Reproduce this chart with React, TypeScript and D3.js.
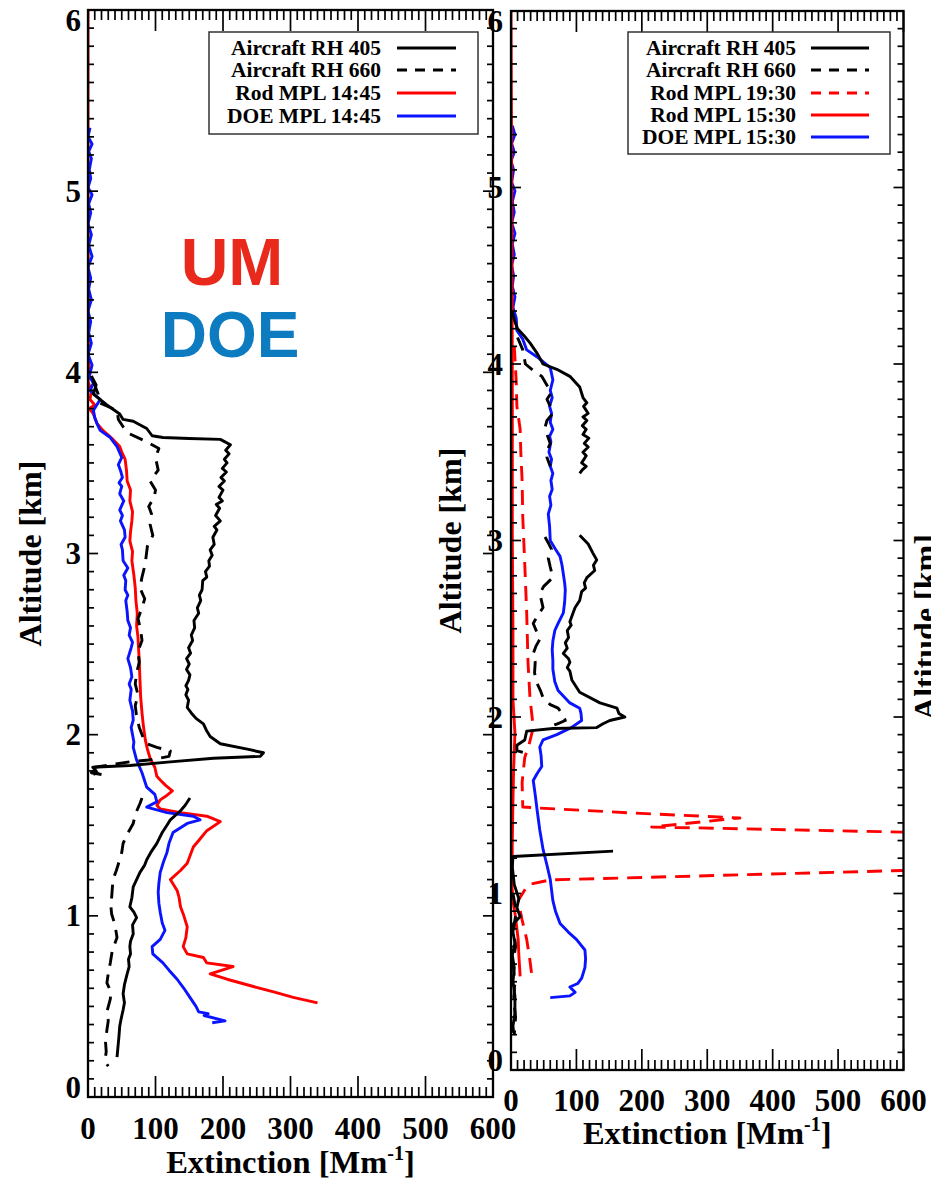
import React from 'react';
import * as d3 from 'd3';

// Each profile point is [altitude km, extinction Mm^-1]; null marks a gap in the profile.
type Pt = [number, number | null];

// ---------- Left panel: 14:45 profiles ----------
const aircraft405Left: Pt[] = [
  [3.98, 5], [3.93, 12], [3.88, 8], [3.82, 28], [3.77, 47], [3.74, 52], [3.73, 67], [3.69, 87],
  [3.65, 95], [3.64, 111], [3.635, 150], [3.63, 196], [3.6, 211], [3.57, 204], [3.55, 209],
  [3.52, 202], [3.5, 206], [3.47, 199], [3.45, 205], [3.42, 197], [3.4, 202], [3.37, 194],
  [3.35, 200], [3.31, 194], [3.29, 199], [3.27, 190], [3.25, 195], [3.21, 189], [3.18, 196],
  [3.15, 187], [3.13, 191], [3.09, 185], [3.05, 187], [3.02, 181], [2.99, 184], [2.96, 179],
  [2.93, 180], [2.9, 174], [2.87, 176], [2.85, 170], [2.8, 169], [2.77, 165], [2.74, 167],
  [2.7, 162], [2.67, 164], [2.63, 157], [2.59, 158], [2.55, 153], [2.52, 155], [2.48, 149],
  [2.45, 152], [2.42, 146], [2.39, 150], [2.36, 146], [2.33, 151], [2.3, 149], [2.27, 145],
  [2.25, 148], [2.22, 145], [2.19, 149], [2.15, 147], [2.12, 153], [2.09, 160], [2.06, 171],
  [2.02, 176], [1.99, 181], [1.95, 196], [1.92, 236], [1.9, 260], [1.88, 255], [1.87, 186],
  [1.85, 122], [1.83, 62], [1.82, 7], [1.8, 12], [1.79, 5], [1.78, 20], [1.7, null],
  [1.65, 151], [1.61, 144], [1.58, 137], [1.53, 122], [1.5, 117], [1.46, 110], [1.43, 106],
  [1.4, 102], [1.35, 93], [1.31, 87], [1.28, 84], [1.24, 77], [1.2, 72], [1.16, 67], [1.1, 65],
  [1.05, 62], [1.02, 68], [0.99, 72], [0.95, 66], [0.9, 67], [0.86, 63], [0.83, 62], [0.79, 63],
  [0.76, 60], [0.72, 61], [0.68, 58], [0.62, 54], [0.57, 52], [0.52, 54], [0.48, 52], [0.43, 49],
  [0.39, 47], [0.34, 46], [0.3, 45], [0.26, 44], [0.22, 43],
];

const aircraft660Left: Pt[] = [
  [3.95, 8], [3.88, 15], [3.83, 18], [3.79, 43], [3.74, 45], [3.7, 52], [3.66, 62], [3.62, 85],
  [3.58, 105], [3.53, 100], [3.46, 104], [3.4, 92], [3.35, 100], [3.31, 98], [3.26, 90],
  [3.22, 94], [3.16, 92], [3.1, 96], [3.04, 88], [2.98, 86], [2.93, 84], [2.87, 80], [2.81, 77],
  [2.75, 84], [2.7, 80], [2.64, 74], [2.58, 78], [2.52, 80], [2.46, 74], [2.4, 76], [2.34, 72],
  [2.28, 70], [2.22, 74], [2.16, 70], [2.1, 72], [2.04, 76], [1.98, 82], [1.95, 87], [1.93, 102],
  [1.91, 122], [1.88, 120], [1.86, 90], [1.85, 62], [1.82, 10], [1.8, 20], [1.78, 8], [1.7, null],
  [1.65, 80], [1.62, 77], [1.56, 70], [1.51, 67], [1.45, 58], [1.4, 52], [1.35, 50], [1.31, 47],
  [1.25, 42], [1.2, 37], [1.15, 36], [1.1, 35], [1.05, 34], [1.01, 35], [0.95, 40], [0.88, 43],
  [0.81, 36], [0.74, 33], [0.68, 30], [0.63, 28], [0.58, 34], [0.54, 33], [0.47, 28], [0.42, 30],
  [0.37, 28], [0.3, 26], [0.25, 27], [0.2, 25], [0.17, 30],
];

const rodMplLeft: Pt[] = [
  [6.0, 0], [5.0, 0], [4.2, 0.5], [4.05, 1], [4.0, 3], [3.95, 0], [3.9, 5], [3.85, 3], [3.82, 10],
  [3.8, 2], [3.77, 8], [3.72, 13], [3.68, 22], [3.63, 37], [3.59, 47], [3.56, 50], [3.52, 55],
  [3.46, 57], [3.4, 58], [3.35, 63], [3.29, 62], [3.23, 66], [3.18, 65], [3.12, 63], [3.07, 62],
  [3.01, 66], [2.96, 65], [2.88, 68], [2.81, 70], [2.74, 71], [2.67, 73], [2.6, 72], [2.54, 74],
  [2.47, 75], [2.4, 76], [2.3, 77], [2.21, 78], [2.12, 80], [2.05, 82], [1.97, 85], [1.92, 88],
  [1.87, 92], [1.82, 99], [1.77, 102], [1.75, 107], [1.72, 115], [1.69, 125], [1.66, 115],
  [1.64, 107], [1.61, 102], [1.59, 107], [1.57, 137], [1.55, 176], [1.52, 196], [1.47, 176],
  [1.42, 165], [1.38, 156], [1.33, 151], [1.29, 147], [1.25, 137], [1.2, 122], [1.14, 132],
  [1.1, 135], [1.05, 137], [1.0, 142], [0.94, 147], [0.88, 145], [0.83, 141], [0.79, 147],
  [0.77, 171], [0.74, 176], [0.72, 215], [0.68, 181], [0.65, 206], [0.61, 245], [0.58, 275],
  [0.55, 304], [0.52, 340],
];

const doeMplLeft: Pt[] = [
  [5.35, 3], [5.3, 0], [5.26, 6], [5.22, 1], [5.18, 5], [5.12, 2], [5.07, 4], [5.02, 0], [4.98, 6],
  [4.93, 1], [4.88, 4], [4.82, 0], [4.76, 5], [4.7, 1], [4.64, 6], [4.58, 0], [4.52, 4], [4.46, 1],
  [4.4, 5], [4.34, 0], [4.28, 4], [4.22, 1], [4.16, 5], [4.1, 0], [4.04, 6], [3.98, 2], [3.94, 8],
  [3.9, 3], [3.85, 18], [3.79, 8], [3.75, 10], [3.72, 13], [3.68, 18], [3.64, 33], [3.59, 43],
  [3.53, 50], [3.49, 45], [3.46, 48], [3.42, 51], [3.39, 46], [3.37, 50], [3.33, 47], [3.29, 53],
  [3.24, 47], [3.21, 51], [3.18, 48], [3.13, 54], [3.09, 55], [3.05, 49], [3.02, 51], [2.96, 52],
  [2.92, 59], [2.88, 53], [2.85, 56], [2.8, 55], [2.77, 59], [2.74, 56], [2.68, 58], [2.63, 59],
  [2.59, 63], [2.55, 61], [2.51, 66], [2.48, 64], [2.42, 59], [2.37, 63], [2.32, 65], [2.28, 61],
  [2.25, 64], [2.19, 62], [2.13, 66], [2.08, 67], [2.04, 64], [2.0, 66], [1.96, 68], [1.93, 67],
  [1.86, 72], [1.79, 80], [1.71, 87], [1.67, 99], [1.63, 102], [1.6, 87], [1.57, 117], [1.55, 156],
  [1.53, 166], [1.51, 147], [1.46, 126], [1.4, 120], [1.35, 117], [1.3, 112], [1.24, 107],
  [1.18, 105], [1.13, 104], [1.07, 105], [1.02, 107], [0.96, 110], [0.92, 114], [0.87, 107],
  [0.83, 95], [0.79, 96], [0.74, 111], [0.7, 120], [0.65, 132], [0.6, 142], [0.55, 151],
  [0.5, 160], [0.47, 164], [0.46, 178], [0.45, 172], [0.42, 203], [0.41, 184],
];

// ---------- Right panel: 15:30 / 19:30 profiles ----------
const aircraft405Right: Pt[] = [
  [4.3, 2], [4.25, 5], [4.2, 10], [4.16, 20], [4.12, 29], [4.06, 40], [4.0, 49], [3.97, 70],
  [3.93, 90], [3.87, 105], [3.81, 110], [3.78, 116], [3.76, 111], [3.72, 118], [3.7, 110],
  [3.68, 116], [3.65, 109], [3.63, 115], [3.6, 110], [3.58, 119], [3.55, 112], [3.53, 118],
  [3.5, 110], [3.48, 115], [3.44, 108], [3.42, 115], [3.4, 109], [3.38, 105], [3.2, null],
  [3.03, 105], [2.98, 118], [2.93, 125], [2.89, 131], [2.86, 126], [2.83, 128], [2.79, 116],
  [2.76, 112], [2.73, 114], [2.71, 108], [2.66, 105], [2.62, 98], [2.59, 95], [2.54, 90],
  [2.52, 92], [2.49, 86], [2.45, 88], [2.42, 83], [2.39, 86], [2.36, 80], [2.33, 88], [2.31, 90],
  [2.28, 86], [2.26, 90], [2.21, 93], [2.14, 105], [2.08, 136], [2.05, 162], [2.02, 165],
  [2.0, 174], [1.98, 151], [1.96, 140], [1.94, 131], [1.935, 64], [1.92, 24], [1.87, 21],
  [1.84, 9], [1.81, 9], [1.8, 18], [1.5, null],
  [1.24, 156], [1.21, 3], [1.15, 2], [1.05, 5], [0.97, 12], [0.92, 9], [0.87, 14], [0.83, 4],
  [0.78, 3], [0.72, 6], [0.65, 2], [0.58, 5], [0.5, 3], [0.42, 6], [0.32, 6], [0.25, 3], [0.21, 4],
];

const aircraft660Right: Pt[] = [
  [4.15, 10], [4.08, 18], [4.0, 22], [3.96, 35], [3.93, 47], [3.88, 55], [3.84, 62], [3.8, 55],
  [3.76, 60], [3.72, 64], [3.68, 55], [3.64, 52], [3.59, 56], [3.55, 60], [3.5, 54], [3.47, 55],
  [3.42, 60], [3.2, null],
  [3.02, 52], [2.98, 58], [2.95, 62], [2.9, 57], [2.85, 60], [2.79, 64], [2.74, 50], [2.7, 44],
  [2.62, 49], [2.57, 40], [2.53, 34], [2.44, 44], [2.4, 38], [2.36, 34], [2.31, 37], [2.25, 36],
  [2.19, 40], [2.15, 45], [2.11, 49], [2.07, 60], [2.05, 72], [2.01, 80], [1.98, 83], [1.96, 70],
  [1.94, 55], [1.5, null],
  [1.0, 3], [0.9, 8], [0.8, 4], [0.7, 7], [0.6, 3], [0.5, 6], [0.4, 4], [0.3, 7], [0.2, 5],
];

const rodMpl1930: Pt[] = [
  [4.1, 5], [3.9, 8], [3.76, 9], [3.63, 14], [3.5, 15], [3.34, 17], [3.13, 18], [2.87, 21],
  [2.59, 24], [2.31, 26], [2.11, 29], [1.94, 34], [1.85, 28], [1.77, 21], [1.63, 17], [1.49, 18],
  [1.484, 44], [1.456, 187], [1.428, 350], [1.377, 215], [1.325, 900], [1.16, 900], [1.077, 60],
  [1.05, 26], [0.96, 11], [0.85, 17], [0.74, 24], [0.62, 29], [0.53, 32],
];

const rodMpl1530: Pt[] = [
  [6.0, 0], [5.0, 1], [4.0, 2], [3.0, 2], [2.5, 3], [2.1, 3], [1.91, 6], [1.7, 4], [1.53, 3],
  [1.3, 2], [1.04, 1.5], [0.96, 3], [0.89, 6], [0.8, 9], [0.74, 11], [0.65, 12], [0.53, 14],
];

const doeMpl1530: Pt[] = [
  [5.35, 2], [5.3, 6], [5.25, 1], [5.2, 5], [5.15, 0], [5.1, 4], [5.03, 1], [4.98, 6], [4.92, 2],
  [4.86, 5], [4.8, 1], [4.74, 6], [4.68, 2], [4.62, 5], [4.56, 1], [4.5, 4], [4.44, 2], [4.38, 6],
  [4.32, 3], [4.26, 8], [4.19, 9], [4.14, 18], [4.08, 24], [4.04, 40], [3.98, 60], [3.91, 64],
  [3.85, 60], [3.81, 63], [3.76, 59], [3.72, 62], [3.67, 60], [3.63, 64], [3.59, 59], [3.56, 61],
  [3.5, 58], [3.46, 62], [3.42, 60], [3.38, 64], [3.34, 61], [3.29, 63], [3.25, 59], [3.2, 61],
  [3.15, 57], [3.08, 59], [3.0, 60], [2.95, 68], [2.91, 75], [2.86, 78], [2.81, 80], [2.76, 82],
  [2.72, 83], [2.65, 82], [2.59, 80], [2.53, 72], [2.49, 67], [2.43, 64], [2.38, 63], [2.32, 64],
  [2.27, 64], [2.2, 67], [2.15, 72], [2.08, 90], [2.05, 105], [2.02, 107], [1.98, 108], [1.94, 92],
  [1.9, 70], [1.87, 49], [1.83, 44], [1.78, 46], [1.72, 47], [1.68, 40], [1.64, 34], [1.56, 37],
  [1.47, 40], [1.36, 44], [1.25, 49], [1.16, 55], [1.08, 60], [0.96, 64], [0.9, 68], [0.83, 75],
  [0.78, 88], [0.74, 100], [0.68, 113], [0.63, 114], [0.58, 113], [0.52, 108], [0.49, 102],
  [0.47, 90], [0.44, 98], [0.42, 90], [0.41, 60],
];

// ---------- Axes & legends ----------
const xTickValues = [0, 100, 200, 300, 400, 500, 600];
const yTickValues = [0, 1, 2, 3, 4, 5, 6];
const legendLeftLabels = ['Aircraft RH 405', 'Aircraft RH 660', 'Rod MPL 14:45', 'DOE MPL 14:45'];
const legendRightLabels = ['Aircraft RH 405', 'Aircraft RH 660', 'Rod MPL 19:30', 'Rod MPL 15:30', 'DOE MPL 15:30'];

const SERIF = '"Liberation Serif", "Times New Roman", Times, serif';
const SANS = '"Liberation Sans", Arial, Helvetica, sans-serif';
const RED = '#ff0000';
const BLUE = '#0a14ff';
const BLACK = '#000000';

type Series = { data: Pt[]; color: string; dash?: string };
type LegendItem = { label: string; color: string; dash?: string };

interface PanelProps {
  id: string;
  left: number;
  right: number;
  top: number;
  bottom: number;
  series: Series[];
  legend: LegendItem[];
  legendBox: { x0: number; x1: number; y0: number; y1: number; textRight: number; lineX0: number; lineX1: number; rowY: number[] };
  yLabelRight: number;
  xLabelBaseline: number;
  xTitleBaseline: number;
  yTitleX: number;
}

function Panel(p: PanelProps) {
  const x = d3.scaleLinear().domain([0, 600]).range([p.left, p.right]);
  const y = d3.scaleLinear().domain([0, 6]).range([p.bottom, p.top]);
  const line = d3
    .line<Pt>()
    .defined((d) => d[1] !== null)
    .x((d) => x(d[1] as number))
    .y((d) => y(d[0]));

  const minorX = d3.range(0, 601, 10).filter((v) => v % 100 !== 0);
  const minorY = d3.range(0, 61, 1).map((v) => v / 10).filter((v) => Math.abs(v - Math.round(v)) > 1e-6);

  // keep the end labels inside the frame height
  const clamp = (v: number) => Math.max(p.top + 10, Math.min(p.bottom - 10, v));

  const lb = p.legendBox;
  return (
    <g>
      <defs>
        <clipPath id={`clip-${p.id}`}>
          <rect x={p.left} y={p.top} width={p.right - p.left} height={p.bottom - p.top} />
        </clipPath>
      </defs>

      <g clipPath={`url(#clip-${p.id})`}>
        {p.series.map((s, i) => (
          <path
            key={i}
            d={line(s.data) || ''}
            fill="none"
            stroke={s.color}
            strokeWidth={2.9}
            strokeDasharray={s.dash}
            strokeLinejoin="round"
          />
        ))}
      </g>

      {/* ticks on all four sides */}
      <g stroke={BLACK} strokeWidth={1.7}>
        {xTickValues.map((v) => (
          <g key={`xM${v}`}>
            <line x1={x(v)} x2={x(v)} y1={p.bottom} y2={p.bottom - 21} />
            <line x1={x(v)} x2={x(v)} y1={p.top} y2={p.top + 21} />
          </g>
        ))}
        {minorX.map((v) => (
          <g key={`xm${v}`}>
            <line x1={x(v)} x2={x(v)} y1={p.bottom} y2={p.bottom - 10} />
            <line x1={x(v)} x2={x(v)} y1={p.top} y2={p.top + 10} />
          </g>
        ))}
        {yTickValues.map((v) => (
          <g key={`yM${v}`}>
            <line x1={p.left} x2={p.left + 10} y1={y(v)} y2={y(v)} />
            <line x1={p.right} x2={p.right - 10} y1={y(v)} y2={y(v)} />
          </g>
        ))}
        {minorY.map((v) => (
          <g key={`ym${v}`}>
            <line x1={p.left} x2={p.left + 6} y1={y(v)} y2={y(v)} />
            <line x1={p.right} x2={p.right - 6} y1={y(v)} y2={y(v)} />
          </g>
        ))}
      </g>

      <rect x={p.left} y={p.top} width={p.right - p.left} height={p.bottom - p.top} fill="none" stroke={BLACK} strokeWidth={2.3} />

      {/* tick labels */}
      <g fontFamily={SERIF} fontWeight="bold" fontSize={31} fill={BLACK}>
        {xTickValues.map((v) => (
          <text key={`xl${v}`} x={x(v)} y={p.xLabelBaseline} textAnchor="middle">
            {v}
          </text>
        ))}
        {yTickValues.map((v) => (
          <text key={`yl${v}`} x={p.yLabelRight} y={clamp(y(v))} textAnchor="end" dominantBaseline="central">
            {v}
          </text>
        ))}
      </g>

      {/* axis titles */}
      <text
        x={(p.left + p.right) / 2}
        y={p.xTitleBaseline}
        textAnchor="middle"
        fontFamily={SERIF}
        fontWeight="bold"
        fontSize={32.5}
      >
        Extinction [Mm
        <tspan fontSize={20} dy={-13}>-1</tspan>
        <tspan dy={13}>]</tspan>
      </text>
      <text
        transform={`translate(${p.yTitleX},${(p.top + p.bottom) / 2}) rotate(-90)`}
        textAnchor="middle"
        fontFamily={SERIF}
        fontWeight="bold"
        fontSize={32}
      >
        Altitude [km]
      </text>

      {/* legend */}
      <rect x={lb.x0} y={lb.y0} width={lb.x1 - lb.x0} height={lb.y1 - lb.y0} fill="#ffffff" stroke="#333333" strokeWidth={1.5} />
      {p.legend.map((item, i) => (
        <g key={item.label}>
          <text
            x={lb.textRight}
            y={lb.rowY[i]}
            textAnchor="end"
            dominantBaseline="central"
            fontFamily={SERIF}
            fontWeight="bold"
            fontSize={21.5}
          >
            {item.label}
          </text>
          <line
            x1={lb.lineX0}
            x2={lb.lineX1}
            y1={lb.rowY[i]}
            y2={lb.rowY[i]}
            stroke={item.color}
            strokeWidth={2.9}
            strokeDasharray={item.dash}
          />
        </g>
      ))}
    </g>
  );
}

const DASH_BLACK = '14,9';
const DASH_RED = '15,9';

export default function App() {
  return (
    <svg
      width={931}
      height={1183}
      viewBox="0 0 931 1183"
      style={{ position: 'absolute', left: 0, top: 0, background: '#ffffff' }}
    >
      <rect x={0} y={0} width={931} height={1183} fill="#ffffff" />

      <Panel
        id="left"
        left={88}
        right={493}
        top={10}
        bottom={1097}
        series={[
          { data: rodMplLeft, color: RED },
          { data: doeMplLeft, color: BLUE },
          { data: aircraft405Left, color: BLACK },
          { data: aircraft660Left, color: BLACK, dash: DASH_BLACK },
        ]}
        legend={[
          { label: legendLeftLabels[0], color: BLACK },
          { label: legendLeftLabels[1], color: BLACK, dash: '10,8' },
          { label: legendLeftLabels[2], color: RED },
          { label: legendLeftLabels[3], color: BLUE },
        ]}
        legendBox={{ x0: 209, x1: 478, y0: 32, y1: 134, textRight: 381, lineX0: 397, lineX1: 456, rowY: [48, 70, 93, 116] }}
        yLabelRight={81}
        xLabelBaseline={1139}
        xTitleBaseline={1173}
        yTitleX={41}
      />

      <Panel
        id="right"
        left={511}
        right={903.5}
        top={11}
        bottom={1070}
        series={[
          { data: doeMpl1530, color: BLUE },
          { data: rodMpl1530, color: RED },
          { data: rodMpl1930, color: RED, dash: DASH_RED },
          { data: aircraft405Right, color: BLACK },
          { data: aircraft660Right, color: BLACK, dash: DASH_BLACK },
        ]}
        legend={[
          { label: legendRightLabels[0], color: BLACK },
          { label: legendRightLabels[1], color: BLACK, dash: '10,8' },
          { label: legendRightLabels[2], color: RED, dash: '10,8' },
          { label: legendRightLabels[3], color: RED },
          { label: legendRightLabels[4], color: BLUE },
        ]}
        legendBox={{ x0: 628, x1: 890, y0: 32, y1: 154, textRight: 796, lineX0: 811, lineX1: 869, rowY: [48, 70, 93, 115, 137] }}
        yLabelRight={503}
        xLabelBaseline={1111}
        xTitleBaseline={1144}
        yTitleX={461}
      />

      {/* group labels */}
      <text x={232} y={285} textAnchor="middle" fontFamily={SANS} fontWeight="bold" fontSize={66} fill="#e8291c">
        UM
      </text>
      <text x={230} y={357} textAnchor="middle" fontFamily={SANS} fontWeight="bold" fontSize={64} fill="#0d7bc0">
        DOE
      </text>

      {/* y title of the neighbouring panel at the page edge */}
      <text
        transform="translate(936,627) rotate(-90)"
        textAnchor="middle"
        fontFamily={SERIF}
        fontWeight="bold"
        fontSize={32}
      >
        Altitude [km]
      </text>
    </svg>
  );
}
